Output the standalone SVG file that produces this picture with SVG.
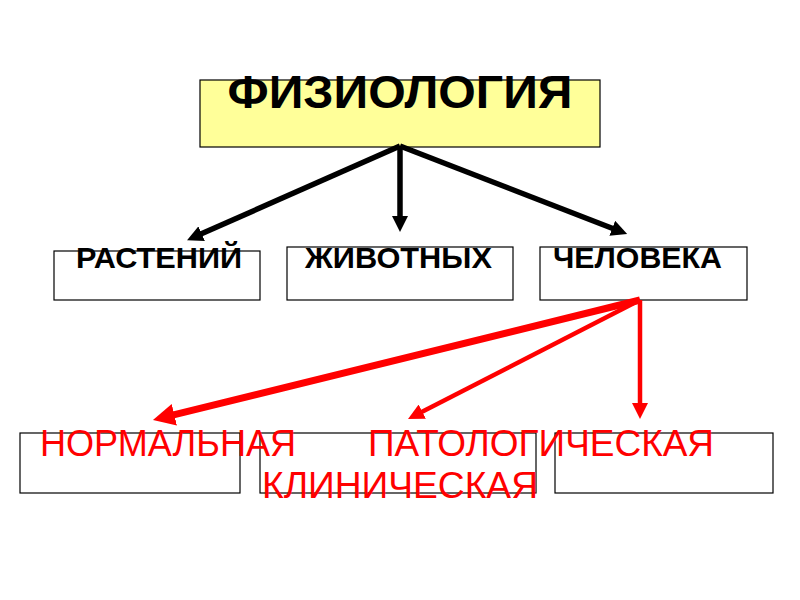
<svg xmlns="http://www.w3.org/2000/svg" width="800" height="600" viewBox="0 0 800 600">
  <style>
    .box { fill: #ffffff; stroke: #000000; stroke-width: 1.2; }
    .top { fill: #ffff99; stroke: #000000; stroke-width: 1.2; }
    .title { font-family: "Liberation Sans", Arial, sans-serif; font-weight: bold; font-size: 46px; fill: #000000; }
    .lbl { font-family: "Liberation Sans", Arial, sans-serif; font-weight: bold; font-size: 30px; fill: #000000; }
    .red { font-family: "Liberation Sans", Arial, sans-serif; font-size: 37px; fill: #ff0000; }
    .blk { stroke: #000000; stroke-width: 5.5; fill: none; }
    .r1 { stroke: #ff0000; stroke-width: 7; fill: none; }
    .r2 { stroke: #ff0000; stroke-width: 4.5; fill: none; }
  </style>
  <defs>
    <marker id="hb" markerUnits="userSpaceOnUse" markerWidth="18" markerHeight="16" refX="4" refY="8" orient="auto">
      <path d="M0,0 L16,8 L0,16 z" fill="#000000"/>
    </marker>
    <marker id="hr1" markerUnits="userSpaceOnUse" markerWidth="24" markerHeight="22" refX="6" refY="11" orient="auto">
      <path d="M0,0 L22,11 L0,22 z" fill="#ff0000"/>
    </marker>
    <marker id="hr2" markerUnits="userSpaceOnUse" markerWidth="18" markerHeight="16" refX="4" refY="8" orient="auto">
      <path d="M0,0 L16,8 L0,16 z" fill="#ff0000"/>
    </marker>
  </defs>
  <rect width="800" height="600" fill="#ffffff"/>

  <g id="node-fiziologiya">
    <rect class="top" x="200" y="80" width="400" height="67"/>
    <text class="title" x="400" y="108" text-anchor="middle" textLength="345" lengthAdjust="spacingAndGlyphs">ФИЗИОЛОГИЯ</text>
  </g>

  <g id="node-rasteniy">
    <rect class="box" x="54" y="251" width="206" height="49"/>
    <text class="lbl" x="76" y="268" textLength="166" lengthAdjust="spacingAndGlyphs">РАСТЕНИЙ</text>
  </g>
  <g id="node-zhivotnykh">
    <rect class="box" x="287" y="247" width="226" height="53"/>
    <text class="lbl" x="305" y="268" textLength="187" lengthAdjust="spacingAndGlyphs">ЖИВОТНЫХ</text>
  </g>
  <g id="node-cheloveka">
    <rect class="box" x="540" y="247" width="207" height="53"/>
    <text class="lbl" x="553" y="268" textLength="169" lengthAdjust="spacingAndGlyphs">ЧЕЛОВЕКА</text>
  </g>

  <g id="node-normalnaya">
    <rect class="box" x="20" y="433" width="220" height="60"/>
  </g>
  <g id="node-klinicheskaya">
    <rect class="box" x="260" y="433" width="276" height="60"/>
  </g>
  <g id="node-patologicheskaya">
    <rect class="box" x="555" y="433" width="218" height="60"/>
  </g>

  <g id="labels-red">
    <text class="red" x="40" y="456" textLength="256" lengthAdjust="spacingAndGlyphs">НОРМАЛЬНАЯ</text>
    <text class="red" x="368" y="456" textLength="346" lengthAdjust="spacingAndGlyphs">ПАТОЛОГИЧЕСКАЯ</text>
    <text class="red" x="262" y="498" textLength="276" lengthAdjust="spacingAndGlyphs">КЛИНИЧЕСКАЯ</text>
  </g>

  <g id="connectors">
    <line class="blk" x1="400" y1="146" x2="198" y2="235.3" marker-end="url(#hb)"/>
    <line class="blk" x1="400" y1="146" x2="400" y2="220" marker-end="url(#hb)"/>
    <line class="blk" x1="400" y1="146" x2="616" y2="229.7" marker-end="url(#hb)"/>
    <line class="r1" x1="640" y1="300" x2="168.5" y2="416.2" marker-end="url(#hr1)"/>
    <line class="r2" x1="640" y1="300" x2="418.7" y2="413.5" marker-end="url(#hr2)"/>
    <line class="r2" x1="640" y1="300" x2="640" y2="407" marker-end="url(#hr2)"/>
  </g>
</svg>
